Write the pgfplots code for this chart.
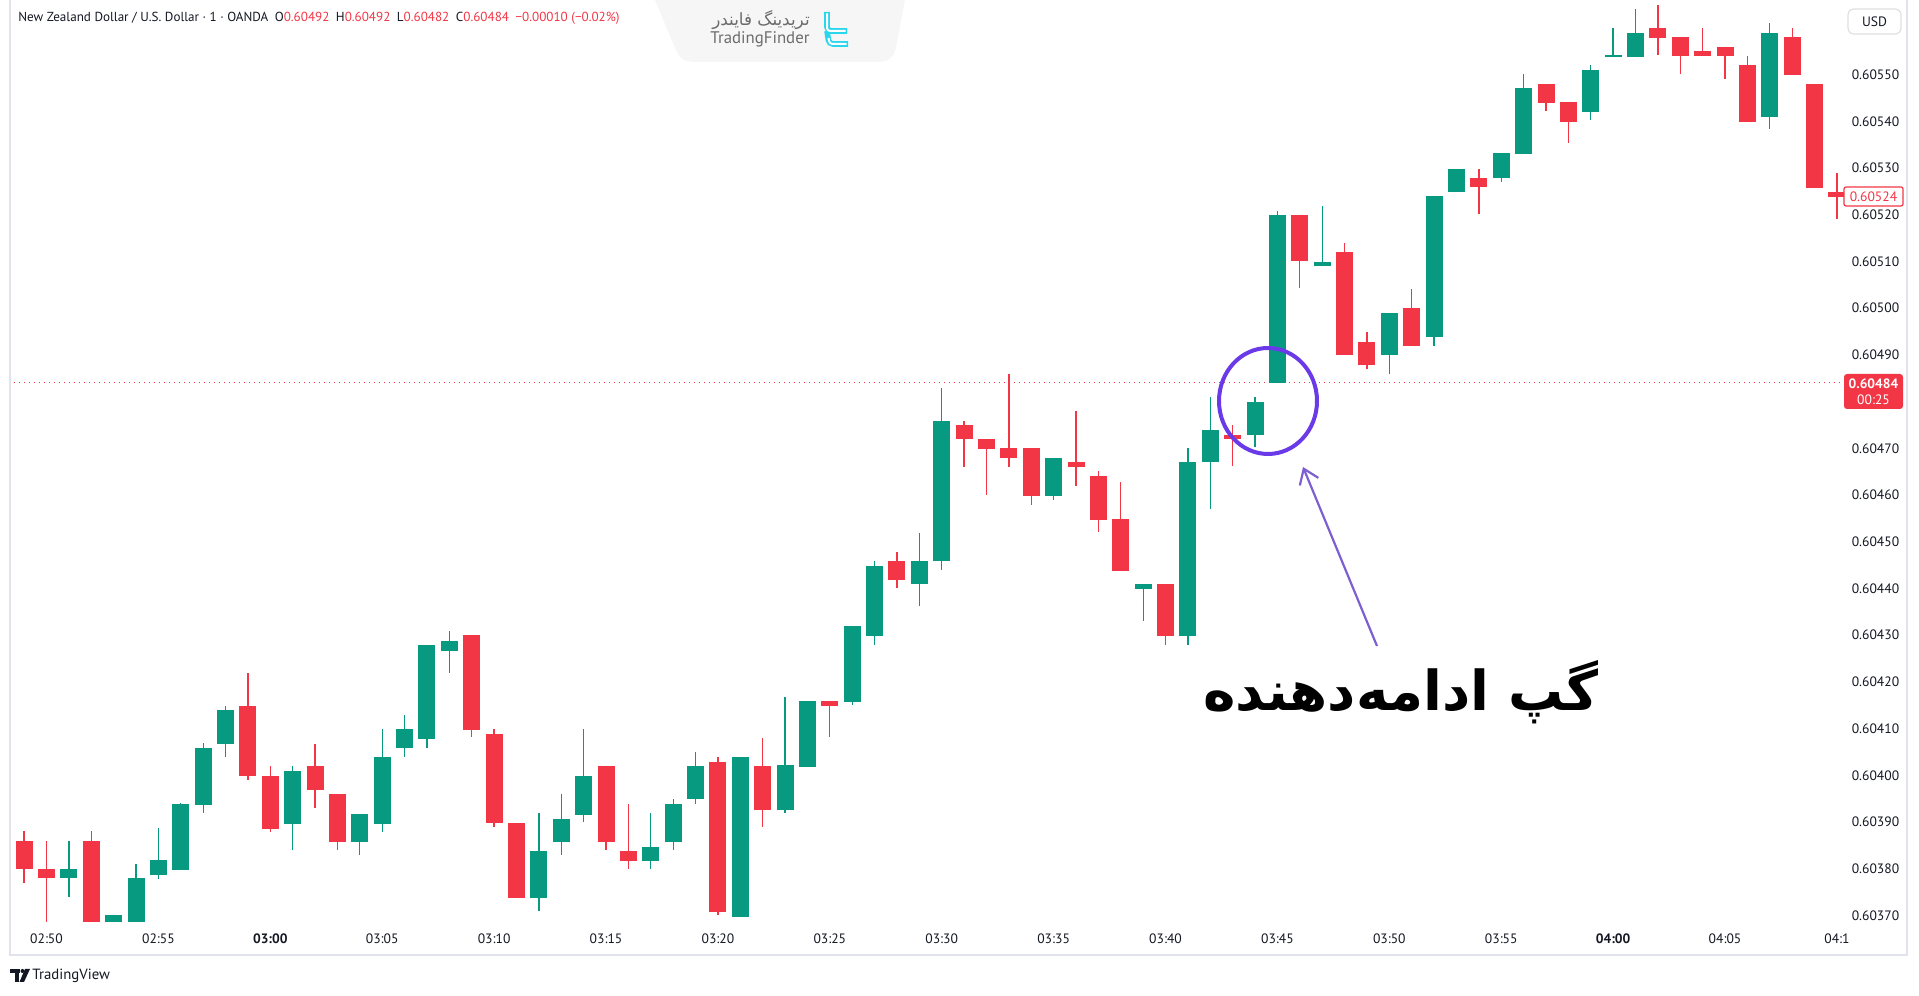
\documentclass[border=0pt]{standalone}
\usepackage{fontspec}
\usepackage{pgfplots}
\pgfplotsset{compat=1.18}
\usepackage{pgfplotstable}
\usetikzlibrary{arrows.meta}
\setmainfont{PT Sans}
\newfontfamily\arabicfont[Script=Arabic]{DejaVu Sans}
\TeXXeTstate=1
\definecolor{tvgreen}{RGB}{8,153,129}
\definecolor{tvred}{RGB}{242,54,69}
\definecolor{tvtext}{RGB}{19,23,34}
\definecolor{circ}{RGB}{106,58,232}
\definecolor{arr}{RGB}{125,95,210}
\definecolor{tfcyan}{RGB}{40,215,235}
\definecolor{frame}{RGB}{224,227,235}

\pgfplotstableread{
i o h l c
1 378 386 374 380
3 368.5 370 368.5 370
4 368.5 381 368.5 378
5 378.7 388.8 377.9 381.9
6 379.7 394 379.7 393.8
7 393.6 406.9 391.9 405.9
8 406.8 414.8 404 413.9
11 389.6 402 384 400.9
14 385.7 391.7 382.9 391.7
15 389.6 409.9 387.9 404
16 405.8 412.9 404 409.9
17 407.8 427.8 405.9 427.8
18 426.7 431 422 428.8
22 373.8 391.9 371 383.8
23 385.7 396 382.9 390.7
24 391.6 409.9 389.9 399.9
27 381.7 391.9 379.9 384.7
28 385.7 394.9 384 393.8
29 394.9 404.9 393.9 402
31 369.7 404 369.7 404
33 392.6 416.8 391.9 402.2
34 401.8 415.9 401.8 415.9
36 415.7 431.9 415.1 431.9
37 429.9 445.9 428 444.9
39 440.9 451.8 436.2 445.9
40 445.9 482.9 444 475.9
45 459.7 468 458.9 468
49 439.9 440.9 433.1 440.9
51 429.9 470.1 428 467
52 467 481 457 474
54 472.9 481 470.2 480
55 483.9 520.9 483.9 520
57 509 521.9 509 510
60 489.9 499 486 499
62 493.8 524 492 524
63 524.8 529.8 524.8 529.8
65 527.8 533.2 527.1 533.2
66 533 550.1 533 547.1
69 542 552.1 540.3 551
70 553.9 560 553.9 554.1
71 553.8 564 553.8 559
77 541 561 538.3 559
}\greentab

\pgfplotstableread{
i o h l c
-1 386 388 377 380
0 380 386 368.5 378
2 386 388 368.5 368.5
9 414.8 421.8 399.1 399.8
10 399.9 402 387.9 388.6
12 402 406.8 392.9 396.9
13 396 396 384 385.7
19 430 430 408.1 409.8
20 408.8 409.9 388.9 389.7
21 389.7 389.7 373.8 373.8
25 402 402 384 385.7
26 383.8 393.8 379.9 381.7
30 402.9 404 370 370.7
32 402 407.9 388.9 392.6
35 415.9 415.9 408.1 414.8
38 445.9 447.9 440.1 441.9
41 474.9 475.9 466.1 471.9
42 471.9 471.9 460 469.9
43 470.1 485.9 466.1 468
44 470.1 470.1 457.9 459.7
46 467 478 461.9 466
47 464.1 465.1 452 454.7
48 454.9 462.8 443.8 443.8
50 440.9 440.9 428 429.9
53 472.9 475 466.2 472
56 520 520 504.3 510
58 512 514 489.9 489.9
59 492.8 494.8 487 487.8
61 500.1 504.1 491.8 491.8
64 527.9 529.9 520.1 525.9
67 548.1 548.1 542.2 544
68 544.1 544.1 535.3 539.9
72 560 565 554.2 557.9
73 558 558 550.1 554
74 555 560 554 554
75 556 556 549.1 554
76 552 554 539.9 539.9
78 558 560 549.9 549.9
79 548 548 525.8 525.8
80 524.9 528.9 519.1 523.9
}\redtab

\pgfplotsset{candle/.style={only marks, mark=*, mark size=0pt, mark options={draw=none, fill=none},
  error bars/.cd, y dir=both, y explicit, error mark=none}}

\begin{document}
\begin{tikzpicture}
\path[use as bounding box] (0,0) rectangle (959.5pt,498pt);
\begin{axis}[
  at={(5pt,35pt)}, anchor=south west,
  scale only axis, width=917.5pt, height=463pt,
  xmin=-1.631, xmax=80.36, ymin=367.74, ymax=565.98,
  axis line style={draw=none},
  major tick length=0pt,
  xtick={0,5,10,15,20,25,30,35,40,45,50,55,60,65,70,75,80},
  xticklabels={02:50,02:55,\textbf{03:00},03:05,03:10,03:15,03:20,03:25,03:30,03:35,03:40,03:45,03:50,03:55,\textbf{04:00},04:05,04:1},
  ytick={370,380,390,400,410,420,430,440,450,460,470,490,500,510,520,530,540,550},
  yticklabels={0.60370,0.60380,0.60390,0.60400,0.60410,0.60420,0.60430,0.60440,0.60450,0.60460,0.60470,0.60490,0.60500,0.60510,0.60520,0.60530,0.60540,0.60550},
  yticklabel pos=right,
  ticklabel style={font=\fontsize{6.8}{8}\selectfont, text=tvtext},
  xticklabel style={anchor=center, yshift=-6.5pt},
  yticklabel style={anchor=center, xshift=15.25pt},
]
\draw[tvred, dotted, line width=0.5pt] (axis cs:-3,484) -- (axis cs:85,484);
\addplot[candle, error bar style={line width=0.65pt, tvgreen}]
  table[x=i, y expr={(\thisrow{h}+\thisrow{l})/2}, y error expr={(\thisrow{h}-\thisrow{l})/2}] {\greentab};
\addplot[candle, error bar style={line width=0.65pt, tvred}]
  table[x=i, y expr={(\thisrow{h}+\thisrow{l})/2}, y error expr={(\thisrow{h}-\thisrow{l})/2}] {\redtab};
\addplot[candle, error bar style={line width=8.5pt, tvgreen}]
  table[x=i, y expr={(\thisrow{o}+\thisrow{c})/2}, y error expr={max(abs(\thisrow{c}-\thisrow{o})/2,0.2)}] {\greentab};
\addplot[candle, error bar style={line width=8.5pt, tvred}]
  table[x=i, y expr={(\thisrow{o}+\thisrow{c})/2}, y error expr={max(abs(\thisrow{c}-\thisrow{o})/2,0.2)}] {\redtab};
\end{axis}

\begin{scope}[x=0.5pt, y=-0.5pt, yshift=498pt]
% frame
\draw[frame, line width=0.6pt] (10,0) -- (10,955) -- (1907,955) -- (1907,0);
% header
\node[anchor=west, inner sep=0, text=tvtext, font=\fontsize{6.55}{7}\selectfont] at (18,18.5)
 {New Zealand Dollar / U.S. Dollar · 1 · OANDA\enspace O\textcolor{tvred}{0.60492}\enspace H\textcolor{tvred}{0.60492}\enspace L\textcolor{tvred}{0.60482}\enspace C\textcolor{tvred}{0.60484}\enspace \textcolor{tvred}{−0.00010 (−0.02\%)}};
% logo block
\fill[gray!7] (655,0) -- (675,48) .. controls (680,60) and (685,62) .. (697,62) -- (878,62) .. controls (889,62) and (893,58) .. (896,48) -- (905,0) -- cycle;
\node[text=gray!85!black, font=\arabicfont\fontsize{8.4}{9}\selectfont] at (761,20) {\beginR تریدینگ فایندر\endR};
\node[text=gray!85!black, font=\fontsize{8.4}{9}\selectfont] at (760,39) {TradingFinder};
\draw[tfcyan, line width=2.8pt, rounded corners=2pt] (827,12) -- (827,31) -- (847,31);
\draw[tfcyan, line width=2.8pt, rounded corners=2pt] (827,31) -- (829,44) -- (848,44);
\draw[white, line width=1pt, rounded corners=1.5pt] (827,13.5) -- (827,31) -- (845.5,31);
\draw[white, line width=1pt, rounded corners=1.5pt] (828.5,38) -- (829.5,44) -- (846.5,44);
% price scale boxes
\draw[gray!25, line width=0.6pt, rounded corners=3pt] (1848,9) rectangle (1901,34);
\node[text=tvtext, font=\fontsize{6.8}{8}\selectfont] at (1874.5,21.5) {USD};
\draw[tvred, fill=white, line width=0.6pt, rounded corners=1pt] (1844,187) rectangle (1903,206);
\node[text=tvred, font=\fontsize{6.8}{8}\selectfont] at (1873.5,196.5) {0.60524};
\fill[tvred, rounded corners=1.5pt] (1844,374) rectangle (1903,409);
\node[text=white, font=\bfseries\fontsize{6.8}{8}\selectfont] at (1873.5,384) {0.60484};
\node[text=white, font=\fontsize{6.8}{8}\selectfont] at (1873.5,400) {00:25};
% annotation
\draw[circ, line width=2pt] (1268,401) ellipse [x radius=49, y radius=53];
\draw[arr, line width=1.1pt, -{Straight Barb[length=7pt, width=10pt]}] (1377,646) -- (1303,467);
\node[text=black, font=\arabicfont\bfseries\fontsize{27.5}{30}\selectfont] at (1401,692) {\beginR گپ ادامه‌دهنده\endR};
% TradingView footer
\fill[tvtext] (10,969) rectangle (20,973);
\fill[tvtext] (14.5,969) rectangle (19,982);
\fill[tvtext] (22.5,971) circle [radius=2];
\fill[tvtext] (25,969) -- (30,969) -- (24,982) -- (19.5,982) -- cycle;
\node[anchor=west, inner sep=0, text=tvtext, font=\fontsize{7.4}{8}\selectfont] at (32,975.5) {TradingView};
\end{scope}
\end{tikzpicture}
\end{document}
